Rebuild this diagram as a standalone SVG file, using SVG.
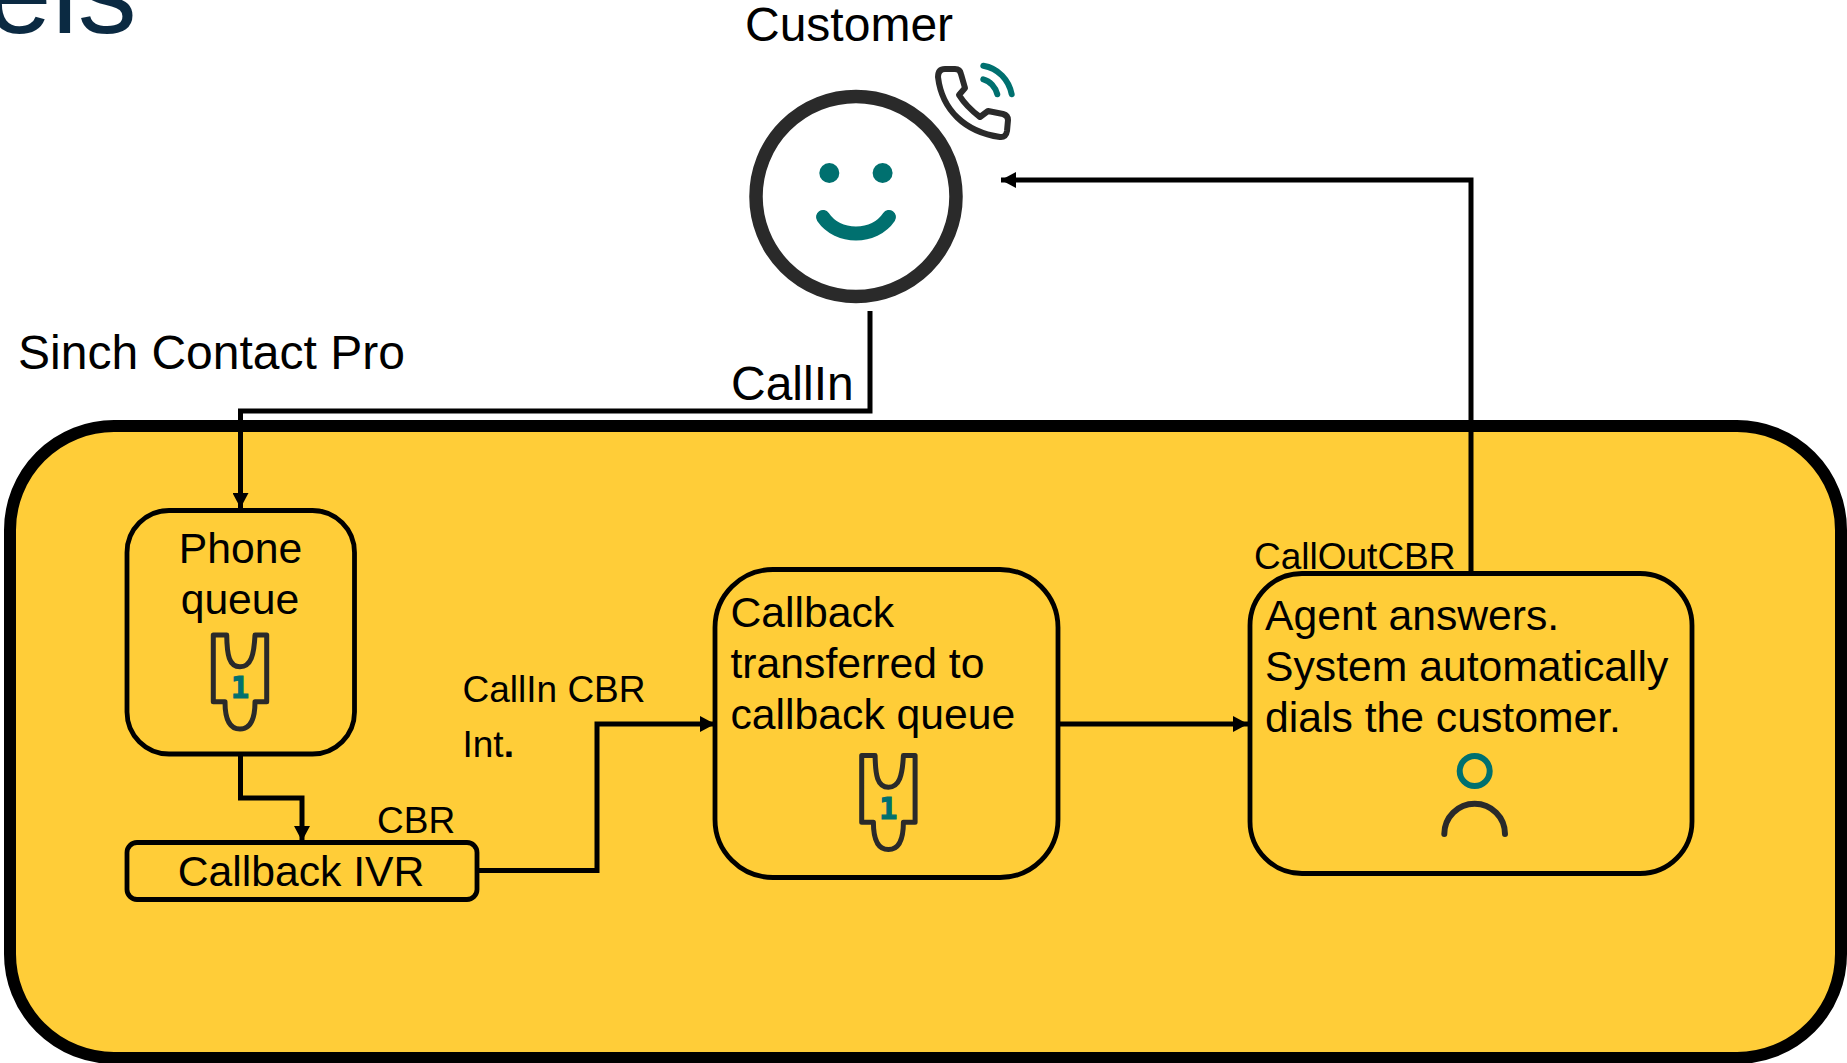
<svg xmlns="http://www.w3.org/2000/svg" width="1847" height="1063" viewBox="0 0 1847 1063">
<style>
text{font-family:"Liberation Sans",Arial,sans-serif;fill:#000}
.t42{font-size:42.700px}.t36{font-size:37px}.t48{font-size:48px}
.box{fill:none;stroke:#000;stroke-width:4.800}
.ink{fill:none;stroke:#2a2a2a;stroke-linecap:round;stroke-linejoin:round}
.teal{fill:none;stroke:#00706f;stroke-linecap:round}
.conn{fill:none;stroke:#000;stroke-width:5}
</style>
<defs>
<marker id="arrow" markerUnits="userSpaceOnUse" markerWidth="15" markerHeight="16" refX="15" refY="8" orient="auto"><path d="M0 0L15 8L0 16Z" fill="#000"/></marker>
<g id="queueIcon">
<path class="ink" stroke-width="5" d="M213.300 635H226.700C227 655 229 666.700 240 666.700C251 666.700 254 655 255 635H266.700V701.700H255C255 718 251 729 240 729C229 729 225 718 225 701.700H213.300Z"/>
<text x="240" y="698" style="font-family:'DejaVu Sans Mono',monospace;font-size:30px;font-weight:700;fill:#00706f;stroke:#00706f;stroke-width:1.200;text-anchor:middle">1</text>
</g>
</defs>
<rect width="1847" height="1063" fill="#fff"/>
<text id="title-fragment" x="-14" y="33" style="font-size:118px;fill:#0b2a42">els</text>
<g id="platform">
<rect x="10" y="426" width="1831" height="632" rx="104" ry="104" fill="#ffcd38" stroke="#000" stroke-width="12"/>
<text class="t48" x="18" y="369">Sinch Contact Pro</text>
</g>
<g id="customer">
<text class="t48" x="745" y="41">Customer</text>
<circle cx="856" cy="196.500" r="100" fill="#fff" stroke="#2a2a2a" stroke-width="13.500"/>
<circle cx="829.300" cy="173" r="10" fill="#00706f"/>
<circle cx="882.600" cy="173" r="10" fill="#00706f"/>
<path class="teal" stroke-width="14" d="M823 217C838 239 874 239 889 217"/>
<path class="ink" stroke-width="6" d="M938 77C938 72 940 69 945 69H955C959 69 960.500 71 961 74L965 88L959 95C964 103 972 111 980 117L988 111L1003 114C1006.500 115 1008 117 1008 120L1007 131C1006.500 135 1004 137.500 1000 137C965 132 942 110 938 77Z"/>
<path class="teal" stroke-width="6" d="M983.300 65.700C998 68 1009 80 1011.700 94.300M983.300 79.300C990 81 995.500 87 997.300 94.300"/>
</g>
<g id="phone-queue">
<rect class="box" x="127" y="510.500" width="227.500" height="243.500" rx="42"/>
<text class="t42" x="240.500" y="563" text-anchor="middle">Phone</text>
<text class="t42" x="240" y="614" text-anchor="middle">queue</text>
<use href="#queueIcon"/>
</g>
<g id="callback-ivr">
<rect class="box" x="127" y="842.500" width="350" height="57" rx="10"/>
<text class="t42" x="301" y="886" text-anchor="middle">Callback IVR</text>
<text class="t36" x="377" y="833">CBR</text>
</g>
<g id="callback-queue">
<rect class="box" x="715" y="569.500" width="343" height="308" rx="58"/>
<text class="t42" x="730.500" y="627">Callback</text>
<text class="t42" x="730.500" y="678">transferred to</text>
<text class="t42" x="730.500" y="729">callback queue</text>
<use href="#queueIcon" x="648.400" y="120.500"/>
</g>
<g id="agent">
<rect class="box" x="1250" y="573.500" width="442" height="300" rx="52"/>
<text class="t42" x="1265" y="630">Agent answers.</text>
<text class="t42" x="1265" y="681">System automatically</text>
<text class="t42" x="1265" y="732">dials the customer.</text>
<circle cx="1474.700" cy="771" r="15" fill="none" stroke="#00706f" stroke-width="6"/>
<path class="ink" stroke-width="6" d="M1444.300 834A30.300 30.300 0 0 1 1505 834"/>
</g>
<g id="connectors">
<path class="conn" marker-end="url(#arrow)" d="M870 311V411H240.500V508"/>
<path class="conn" marker-end="url(#arrow)" d="M240.500 756V798H302V841"/>
<path class="conn" marker-end="url(#arrow)" d="M479 870.500H597V724H715"/>
<path class="conn" marker-end="url(#arrow)" d="M1059 724H1248"/>
<path class="conn" marker-end="url(#arrow)" d="M1471 572V180H1001"/>
</g>
<g id="connector-labels">
<text class="t48" x="731" y="400">CallIn</text>
<text class="t36" x="462.500" y="702">CallIn CBR</text>
<text class="t36" x="462.500" y="757">Int<tspan font-weight="700">.</tspan></text>
<text class="t36" x="1254" y="569">CallOutCBR</text>
</g>
</svg>
